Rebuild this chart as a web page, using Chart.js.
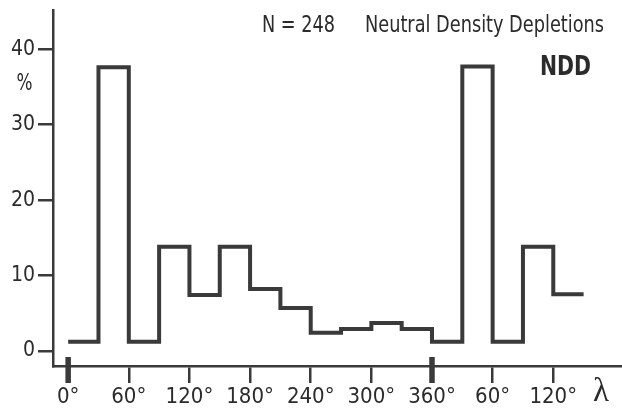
<!DOCTYPE html>
<html lang="en">
<head>
    <meta charset="UTF-8">
    <title>Neutral Density Depletions</title>
    <style>
        body {
            margin: 0;
            background: #ffffff;
        }
        #box {
            width: 622px;
            height: 414px;
        }
    </style>
</head>
<body>
    <div id="box">
        <canvas id="nddChart" width="622" height="414"></canvas>
    </div>

    <script src="https://cdn.jsdelivr.net/npm/chart.js"></script>
    <script>
        // 30 degree longitude bins (left edges), wrapped past 360 for the repeat
        const binEdges = [0, 30, 60, 90, 120, 150, 180, 210, 240, 270, 300, 330,
                          360, 390, 420, 450, 480, 510];
        // percent of events per bin (last value closes the final bin)
        const percents = [1.2, 37.6, 1.2, 13.8, 7.4, 13.8, 8.2, 5.7, 2.4, 2.9, 3.7, 2.9,
                          1.2, 37.7, 1.2, 13.8, 7.5, 7.5];

        const tickDegrees = [0, 60, 120, 180, 240, 300, 360, 420, 480];
        const tickLabels = ['0°', '60°', '120°', '180°', '240°', '300°', '360°', '60°', '120°'];
        const yTicks = [0, 10, 20, 30, 40];
        const heavyTicks = [0, 360];

        const ink = '#3a3a3a';
        const textInk = '#2b2b2b';
        const narrow = "'DejaVu Sans Condensed', 'Liberation Sans Narrow', sans-serif";

        const points = binEdges.map((x, i) => ({ x: x, y: percents[i] }));

        // draw text squeezed horizontally into a given width
        function fitText(ctx, text, x, y, width) {
            const w = ctx.measureText(text).width;
            ctx.save();
            ctx.translate(x, y);
            ctx.scale(width / w, 1);
            ctx.fillText(text, 0, 0);
            ctx.restore();
        }

        // extra labels and the heavy 0°/360° marks
        const annotations = {
            id: 'annotations',
            afterDraw(chart) {
                const ctx = chart.ctx;
                const xs = chart.scales.x;
                ctx.save();
                ctx.strokeStyle = ink;
                ctx.lineWidth = 5.5;
                heavyTicks.forEach(v => {
                    const px = xs.getPixelForValue(v);
                    ctx.beginPath();
                    ctx.moveTo(px, xs.top - 9);
                    ctx.lineTo(px, xs.top + 17);
                    ctx.stroke();
                });

                ctx.fillStyle = textInk;
                ctx.textBaseline = 'alphabetic';
                ctx.textAlign = 'left';
                ctx.font = '23px ' + narrow;
                fitText(ctx, 'N = 248', 262, 32, 73);
                fitText(ctx, 'Neutral Density Depletions', 365, 32, 239);

                ctx.font = 'bold 27px ' + narrow;
                fitText(ctx, 'NDD', 540, 75, 51);

                ctx.font = '23px ' + narrow;
                fitText(ctx, '%', 16.5, 90, 16);

                ctx.textAlign = 'center';
                ctx.font = '33px "Liberation Serif", "DejaVu Serif", serif';
                ctx.fillText('λ', 601, 401);
                ctx.restore();
            }
        };

        new Chart(document.getElementById('nddChart'), {
            type: 'line',
            data: {
                datasets: [{
                    label: 'NDD',
                    data: points,
                    stepped: 'before',
                    borderColor: ink,
                    borderWidth: 4,
                    pointRadius: 0,
                    fill: false
                }]
            },
            options: {
                responsive: false,
                animation: false,
                layout: { padding: { top: 10, right: 0, left: 0, bottom: 0 } },
                plugins: {
                    legend: { display: false },
                    tooltip: { enabled: false }
                },
                scales: {
                    x: {
                        type: 'linear',
                        min: -15,
                        max: 548,
                        afterBuildTicks: s => { s.ticks = tickDegrees.map(v => ({ value: v })); },
                        afterFit: s => { s.height = 48; s.paddingLeft = 0; s.paddingRight = 0; },
                        grid: {
                            drawOnChartArea: false,
                            tickLength: 17,
                            lineWidth: 2.5,
                            color: ink
                        },
                        border: { display: true, width: 2.5, color: ink },
                        ticks: {
                            padding: 1,
                            maxRotation: 0,
                            autoSkip: false,
                            color: textInk,
                            font: { family: narrow, size: 22 },
                            callback: (v, i) => tickLabels[i]
                        }
                    },
                    y: {
                        min: -2,
                        max: 45.2,
                        afterBuildTicks: s => { s.ticks = yTicks.map(v => ({ value: v })); },
                        afterFit: s => { s.width = 53; s.paddingTop = 0; s.paddingBottom = 0; },
                        grid: {
                            drawOnChartArea: false,
                            tickLength: 15,
                            lineWidth: 2.5,
                            color: ink
                        },
                        border: { display: true, width: 2.5, color: ink },
                        ticks: {
                            padding: 3,
                            color: textInk,
                            font: { family: narrow, size: 21 }
                        }
                    }
                }
            },
            plugins: [annotations]
        });
    </script>
</body>
</html>
